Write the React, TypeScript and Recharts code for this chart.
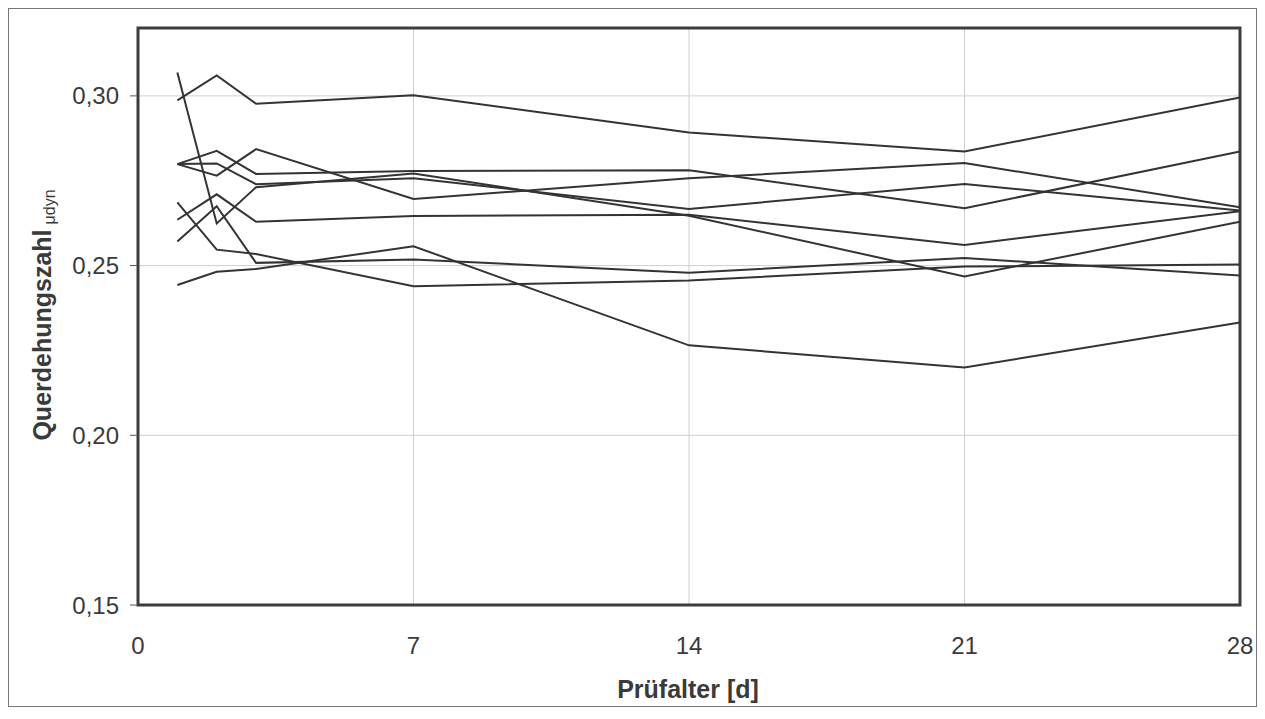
import React from "react";
import {
  LineChart,
  Line,
  XAxis,
  YAxis,
  CartesianGrid,
  ReferenceArea,
} from "recharts";

// Prüfalter [d]
const days = [1, 2, 3, 7, 14, 21, 28];
const xTicks = [0, 7, 14, 21, 28];
const yTicks = [0.15, 0.2, 0.25, 0.3];

// Querdehungszahl μdyn per specimen
const s1 = [0.2987, 0.306, 0.2977, 0.3002, 0.2892, 0.2836, 0.2995];
const s2 = [0.2799, 0.2765, 0.2843, 0.2696, 0.2757, 0.2802, 0.2672];
const s3 = [0.2799, 0.2838, 0.277, 0.2779, 0.2781, 0.2669, 0.2836];
const s4 = [0.2799, 0.2801, 0.274, 0.2757, 0.2667, 0.274, 0.2662];
const s5 = [0.3069, 0.2624, 0.2731, 0.2771, 0.2647, 0.2468, 0.2629];
const s6 = [0.2635, 0.271, 0.2629, 0.2646, 0.265, 0.2561, 0.266];
const s7 = [0.2571, 0.2675, 0.2508, 0.2518, 0.2479, 0.2522, 0.2471];
const s8 = [0.2686, 0.2547, 0.2534, 0.2439, 0.2456, 0.2497, 0.2503];
const s9 = [0.2443, 0.2482, 0.249, 0.2557, 0.2265, 0.22, 0.2332];

const seriesList = [s1, s2, s3, s4, s5, s6, s7, s8, s9];
const seriesKeys = seriesList.map((_, i) => `p${i + 1}`);

const data = days.map((d, i) => {
  const row: Record<string, number> = { day: d };
  seriesList.forEach((s, k) => {
    row[seriesKeys[k]] = s[i];
  });
  return row;
});

const TEXT = "#3a3a3a";
const FONT = "'Liberation Sans', Arial, sans-serif";

const fmt = (v: number) => v.toFixed(2).replace(".", ",");

const YTitle = () => (
  <text
    x={42}
    y={306}
    transform="rotate(-90, 42, 306)"
    textAnchor="middle"
    fill={TEXT}
    fontFamily={FONT}
  >
    <tspan fontWeight="bold" fontSize={25}>
      Querdehungszahl
    </tspan>
    <tspan fontSize={16} dx={5} dy={4}>
      μdyn
    </tspan>
  </text>
);

const XTitle = () => (
  <text
    x={679}
    y={689}
    textAnchor="middle"
    fill={TEXT}
    fontFamily={FONT}
    fontWeight="bold"
    fontSize={25}
  >
    Prüfalter [d]
  </text>
);

export default function App() {
  return (
    <div
      style={{
        width: 1247,
        height: 697,
        border: "1px solid #777",
        background: "#fff",
      }}
    >
      <LineChart
        width={1247}
        height={697}
        data={data}
        margin={{ top: 19, right: 16, bottom: 0, left: 69 }}
      >
        <CartesianGrid stroke="#cfcfcf" strokeWidth={1} />
        <XAxis
          dataKey="day"
          type="number"
          domain={[0, 28]}
          ticks={xTicks}
          allowDataOverflow
          tickLine={false}
          axisLine={false}
          tickMargin={26}
          height={101}
          tick={{ fill: TEXT, fontSize: 24, fontFamily: FONT }}
          label={<XTitle />}
        />
        <YAxis
          type="number"
          domain={[0.15, 0.32]}
          ticks={yTicks}
          allowDataOverflow
          width={60}
          tickSize={8}
          tickMargin={11}
          tickLine={{ stroke: "#555" }}
          axisLine={false}
          tickFormatter={fmt}
          tick={{ fill: TEXT, fontSize: 24, fontFamily: FONT }}
          label={<YTitle />}
        />
        <ReferenceArea
          x1={0}
          x2={28}
          y1={0.15}
          y2={0.32}
          fill="none"
          stroke="#3c3c3c"
          strokeWidth={3}
          ifOverflow="visible"
        />
        {seriesKeys.map((k) => (
          <Line
            key={k}
            dataKey={k}
            type="linear"
            stroke="#333"
            strokeWidth={2}
            dot={false}
            activeDot={false}
            isAnimationActive={false}
          />
        ))}
      </LineChart>
    </div>
  );
}
